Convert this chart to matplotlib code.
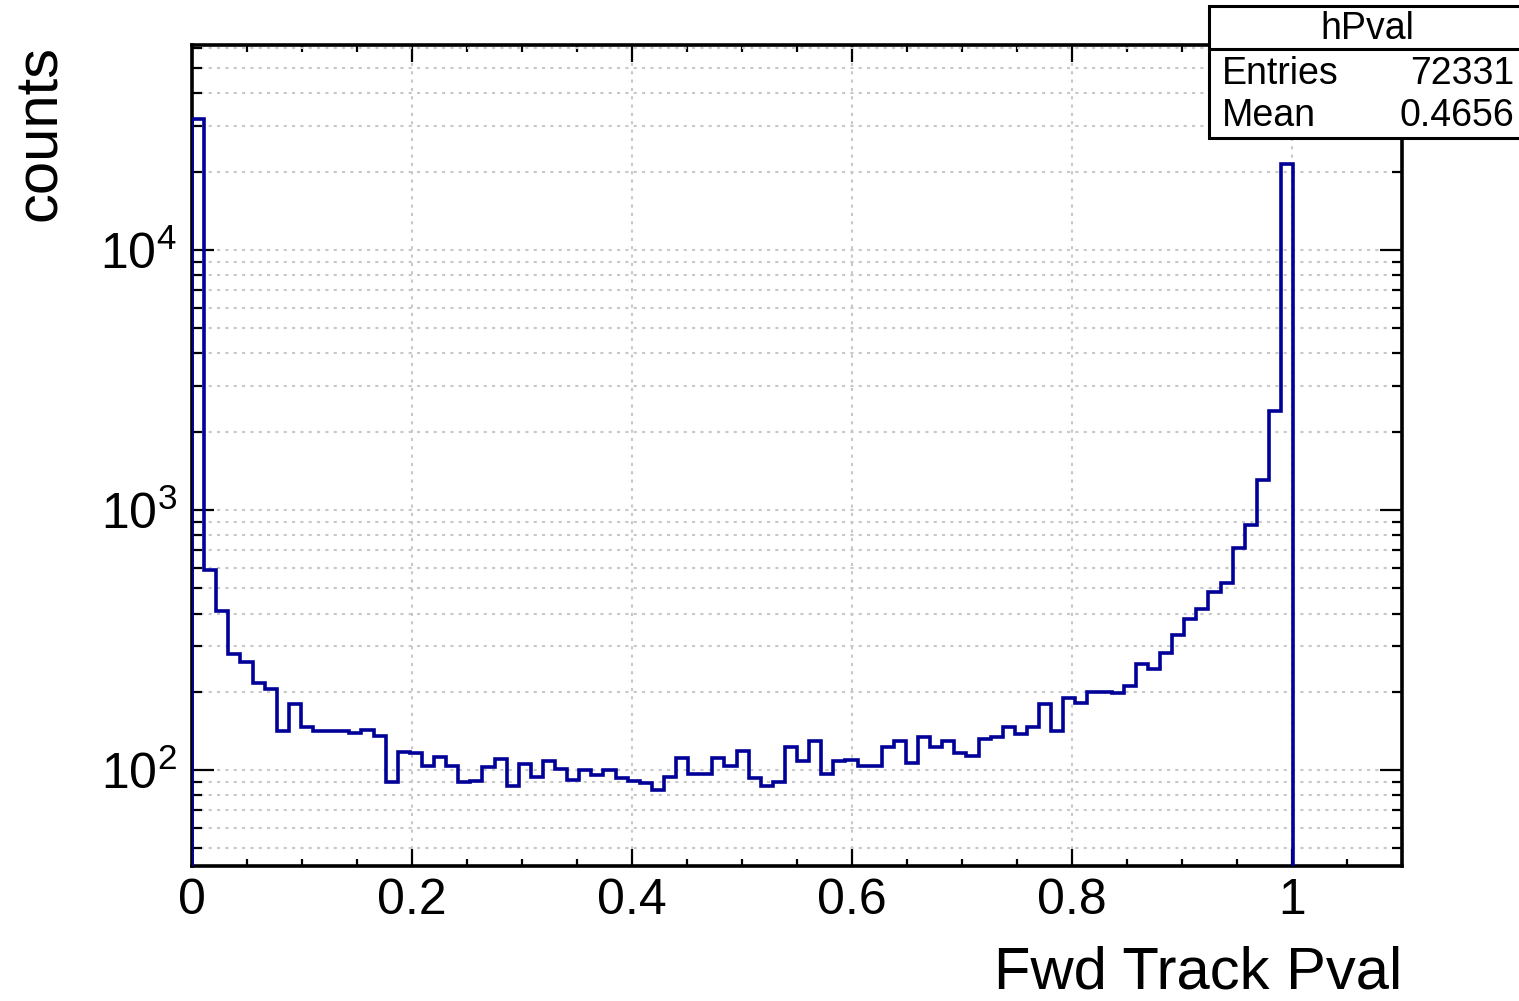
"""ROOT-style log histogram of forward track p-values."""
import numpy as np
import matplotlib
matplotlib.use("Agg")
import matplotlib.pyplot as plt
from matplotlib.ticker import MultipleLocator, LogLocator, NullFormatter, FuncFormatter
from matplotlib.patches import Rectangle
from matplotlib.lines import Line2D

plt.rcParams['font.family'] = ['Liberation Sans', 'DejaVu Sans']
plt.rcParams['mathtext.fontset'] = 'custom'
plt.rcParams['mathtext.rm'] = 'Liberation Sans'
plt.rcParams['mathtext.it'] = 'Liberation Sans'

# ---------- data: 100 bins over [0, 1.1] ----------
x_lo, x_hi, n_bins = 0.0, 1.1, 100
counts = np.array([
    32000, 590, 408, 280, 261, 217, 206, 141, 180, 146,
    141, 141, 141, 139, 143, 135, 90, 117, 116, 104,
    112, 104, 90, 91, 103, 110, 87, 106, 94, 108,
    101, 92, 100, 96, 100, 93, 91, 89, 84, 94,
    111, 97, 97, 111, 104, 118, 93, 87, 90, 123,
    108, 130, 97, 108, 109, 104, 104, 123, 130, 107,
    134, 123, 130, 116, 113, 132, 134, 146, 138, 147,
    180, 142, 189, 182, 200, 199, 198, 210, 256, 244,
    283, 330, 380, 415, 482, 526, 715, 877, 1310, 2400,
    21500, 0, 0, 0, 0, 0, 0, 0, 0, 0,
])
edges = np.linspace(x_lo, x_hi, n_bins + 1)

hist_name = "hPval"
stat_entries = "72331"
stat_mean = "0.4656"
x_title = "Fwd Track Pval"
y_title = "counts"

W, H = 1519, 1001
fig = plt.figure(figsize=(W / 100, H / 100), dpi=100)
ax = fig.add_axes([192 / W, 1 - 866 / H, (1402 - 192) / W, (866 - 45) / H])

ax.set_yscale("log")
ax.stairs(counts, edges, color="#000099", lw=2.6, zorder=3)
ax.set_xlim(x_lo, x_hi)
ax.set_ylim(42.8, 6.14e4)

# ticks in ROOT fashion
ax.xaxis.set_major_locator(MultipleLocator(0.2))
ax.xaxis.set_minor_locator(MultipleLocator(0.05))
ax.xaxis.set_major_formatter(FuncFormatter(lambda v, p: f"{v:g}"))
ax.yaxis.set_major_locator(LogLocator(base=10, numticks=10))
ax.yaxis.set_minor_locator(LogLocator(base=10, subs=np.arange(2, 10), numticks=20))
ax.yaxis.set_minor_formatter(NullFormatter())
ax.yaxis.set_major_formatter(FuncFormatter(lambda v, p: f"$10^{{{int(round(np.log10(v)))}}}$"))

ax.tick_params(axis="both", which="both", direction="in", top=True, right=True,
               width=1.6, color="black")
ax.tick_params(axis="x", which="major", length=12, pad=9, labelsize=36)
ax.tick_params(axis="x", which="minor", length=5)
ax.tick_params(axis="y", which="major", length=16, pad=11, labelsize=36)
ax.tick_params(axis="y", which="minor", length=7)

for s in ax.spines.values():
    s.set_linewidth(2.6)

ax.grid(True, axis="x", which="major", color="#c8c8c8", lw=1.5, ls=(0, (1.5, 2.5)))
ax.grid(True, axis="y", which="both", color="#c8c8c8", lw=1.5, ls=(0, (1.5, 2.5)))
ax.set_axisbelow(True)

fig.text(1402 / W, 1 - 973 / H, x_title, ha="right", va="center", fontsize=43)
fig.text(41 / W, 1 - 45 / H, y_title, rotation=90, ha="center", va="top", fontsize=43)

# stat box
bx0, by0, bx1, by1 = 1209, 6, 1525, 138
fig.patches.append(Rectangle((bx0 / W, 1 - by1 / H), (bx1 - bx0) / W, (by1 - by0) / H,
                             transform=fig.transFigure, facecolor="white",
                             edgecolor="black", lw=2.2, zorder=5))
fig.lines.append(Line2D([bx0 / W, bx1 / W], [1 - 49 / H, 1 - 49 / H],
                        transform=fig.transFigure, color="black", lw=2.2, zorder=6))
fig.text(1367 / W, 1 - 29 / H, hist_name, ha="center", va="center", fontsize=27, zorder=7)
fig.text(1222 / W, 1 - 74 / H, "Entries", ha="left", va="center", fontsize=27, zorder=7)
fig.text(1514 / W, 1 - 74 / H, stat_entries, ha="right", va="center", fontsize=27, zorder=7)
fig.text(1222 / W, 1 - 116 / H, "Mean", ha="left", va="center", fontsize=27, zorder=7)
fig.text(1514 / W, 1 - 116 / H, stat_mean, ha="right", va="center", fontsize=27, zorder=7)

fig.savefig("out.png", dpi=100)
